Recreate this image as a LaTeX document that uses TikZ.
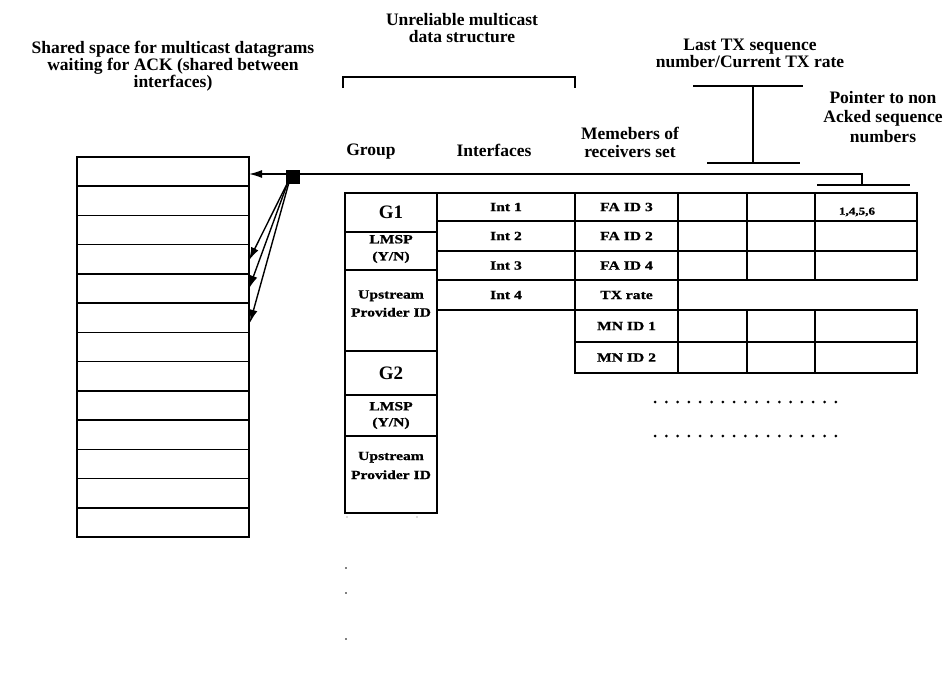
\documentclass[tikz,border=0pt]{standalone}
\usepackage{fontspec}
\setmainfont{Liberation Serif}
\newfontfamily\cellfont[FakeStretch=1.25,FakeBold=1]{Liberation Serif}
\usetikzlibrary{calc,arrows.meta}
\begin{document}
\begin{tikzpicture}[x=1pt,y=-1pt,
  title/.style={font=\bfseries\fontsize{17.5}{16.8}\selectfont, align=center, inner sep=0},
  head/.style={font=\bfseries\fontsize{17.5}{18}\selectfont, align=center, inner sep=0},
  ct/.style={font=\cellfont\bfseries\fontsize{12.5}{13}\selectfont, align=center},
  box/.style={draw, anchor=north west, inner sep=0, outer sep=0, line width=#1},
  box/.default=1.3pt,
  thickframe/.style={line width=2.8pt},
  brace/.style={line width=1.5pt},
  ptr/.style={line width=1.4pt, -{Latex[length=13pt,width=8pt]}},
]
\useasboundingbox (0,0) rectangle (951,675);

% ---- headings ----
\node[title] (tshared) at (173,66) {Shared space for multicast datagrams\\waiting for ACK (shared between\\interfaces)};
\node[title] (tunrel) at (462,28) {Unreliable multicast\\data structure};
\node[title] (tlast) at (750,53) {Last TX sequence\\number/Current TX rate};
\node[font=\bfseries\fontsize{17.5}{19.5}\selectfont, align=center, inner sep=0] (tpoint) at (883,117) {Pointer to non\\Acked sequence\\numbers};
\node[head] (hgroup) at (371,152) {Group};
\node[head] (hint) at (494,150) {Interfaces};
\node[head] (hmem) at (630,142) {Memebers of\\receivers set};

% ---- brackets ----
\draw[brace] (343,88) -- (343,77) -- (575,77) -- (575,88);
\draw[brace] (693,86) -- (803,86);
\draw[brace] (753,86) -- (753,163);
\draw[brace] (707,163) -- (800,163);
\draw[brace] (817,185) -- (910,185);

% ---- shared datagram space ----
\foreach \i in {1,...,13}
  \node[box=1.6pt, minimum width=172pt, minimum height=29.23pt] (r\i) at (77,{157+(\i-1)*29.23}) {};

% ---- group G1 ----
\node[box=1.7pt, minimum width=92pt, minimum height=39pt, font=\bfseries\fontsize{19}{20}\selectfont] (g1) at (345,193) {G1};
\node[box=1.7pt, minimum width=92pt, minimum height=38pt] (g1m) at (345,232) {};
\node[ct, font=\cellfont\bfseries\fontsize{12.5}{17}\selectfont, inner sep=0] (g1mt) at ($(g1m.center)+(0,-2)$) {LMSP\\(Y/N)};
\node[box=1.7pt, minimum width=92pt, minimum height=81pt] (g1u) at (345,270) {};
\node[ct, font=\cellfont\bfseries\fontsize{12.5}{18}\selectfont, inner sep=0] (g1ut) at ($(g1u.center)+(0,-7)$) {Upstream\\Provider ID};
\draw[thickframe] (g1.north west) rectangle (g1u.south east);

% ---- group G2 ----
\node[box=1.7pt, minimum width=92pt, minimum height=44pt, font=\bfseries\fontsize{19}{20}\selectfont] (g2) at (345,351) {G2};
\node[box=1.7pt, minimum width=92pt, minimum height=41pt] (g2m) at (345,395) {};
\node[ct, font=\cellfont\bfseries\fontsize{12.5}{16}\selectfont, inner sep=0] (g2mt) at (g2m.center) {LMSP\\(Y/N)};
\node[box=1.7pt, minimum width=92pt, minimum height=77pt] (g2u) at (345,436) {};
\node[ct, font=\cellfont\bfseries\fontsize{12.5}{19}\selectfont, inner sep=0] (g2ut) at ($(g2u.center)+(0,-9)$) {Upstream\\Provider ID};
\draw[thickframe] (g2.north west) rectangle (g2u.south east);

% ---- interfaces ----
\node[box, ct, minimum width=138pt, minimum height=28pt] (i1) at (437,193) {Int 1};
\node[box, ct, minimum width=138pt, minimum height=30pt] (i2) at (437,221) {Int 2};
\node[box, ct, minimum width=138pt, minimum height=29pt] (i3) at (437,251) {Int 3};
\node[box, ct, minimum width=138pt, minimum height=30pt] (i4) at (437,280) {Int 4};

% ---- receivers: foreign agents ----
\node[box=2.3pt, ct, minimum width=103pt, minimum height=28pt] (fa1) at (575,193) {FA ID 3};
\node[box=2.3pt, ct, minimum width=103pt, minimum height=30pt] (fa2) at (575,221) {FA ID 2};
\node[box=2.3pt, ct, minimum width=103pt, minimum height=29pt] (fa3) at (575,251) {FA ID 4};
\foreach \r/\y/\h in {1/193/28,2/221/30,3/251/29}{
  \node[box=2.3pt, minimum width=69pt, minimum height=\h pt] (fa\r b) at (678,\y) {};
  \node[box=2.3pt, minimum width=68pt, minimum height=\h pt] (fa\r c) at (747,\y) {};
  \node[box=2.3pt, minimum width=102pt, minimum height=\h pt] (fa\r d) at (815,\y) {};
}
\node[ct, font=\cellfont\bfseries\fontsize{10.5}{12}\selectfont, inner sep=0] (seq) at ($(fa1d.center)+(-9,5)$) {1,4,5,6};

% ---- transmit rate and mobile nodes ----
\node[box, ct, minimum width=103pt, minimum height=30pt] (txr) at (575,280) {TX rate};
\node[box, ct, minimum width=103pt, minimum height=32pt] (mn1) at (575,310) {MN ID 1};
\node[box, ct, minimum width=103pt, minimum height=31pt] (mn2) at (575,342) {MN ID 2};
\foreach \r/\y/\h in {1/310/32,2/342/31}{
  \node[box, minimum width=69pt, minimum height=\h pt] (mn\r b) at (678,\y) {};
  \node[box, minimum width=68pt, minimum height=\h pt] (mn\r c) at (747,\y) {};
  \node[box, minimum width=102pt, minimum height=\h pt] (mn\r d) at (815,\y) {};
}

% ---- continuation dots ----
\foreach \k in {0,...,16}{
  \fill ({655+\k*11.3},402) circle (1.5pt);
  \fill ({655+\k*11.3},436) circle (1.5pt);
}
\foreach \y in {568,593,639} \fill (346,\y) circle (0.8pt);
\fill[black!60] (347,517) circle (0.6pt);
\fill[black!60] (417,517) circle (0.6pt);

% ---- pointer into the shared space ----
\node[fill, minimum size=14pt, inner sep=0] (sq) at (292.5,177) {};
\coordinate (pb) at (862,185);
\draw[line width=1.3pt] ($(sq.center)+(0,-3)$) -- ($(pb)+(0,-11)$) -- (pb);
\draw[ptr] ($(sq.center)+(0,-3)$) -- ($(r1.east |- sq.center)+(0,-3)$);
\draw[ptr] ($(sq.south west)+(3,-3)$) -- ($(r4.east)+(0,1)$);
\draw[ptr] ($(sq.south west)+(3,-3)$) -- (r5.east);
\draw[ptr] ($(sq.south west)+(4,-3)$) -- ($(r6.east)+(1,5)$);
\end{tikzpicture}
\end{document}
